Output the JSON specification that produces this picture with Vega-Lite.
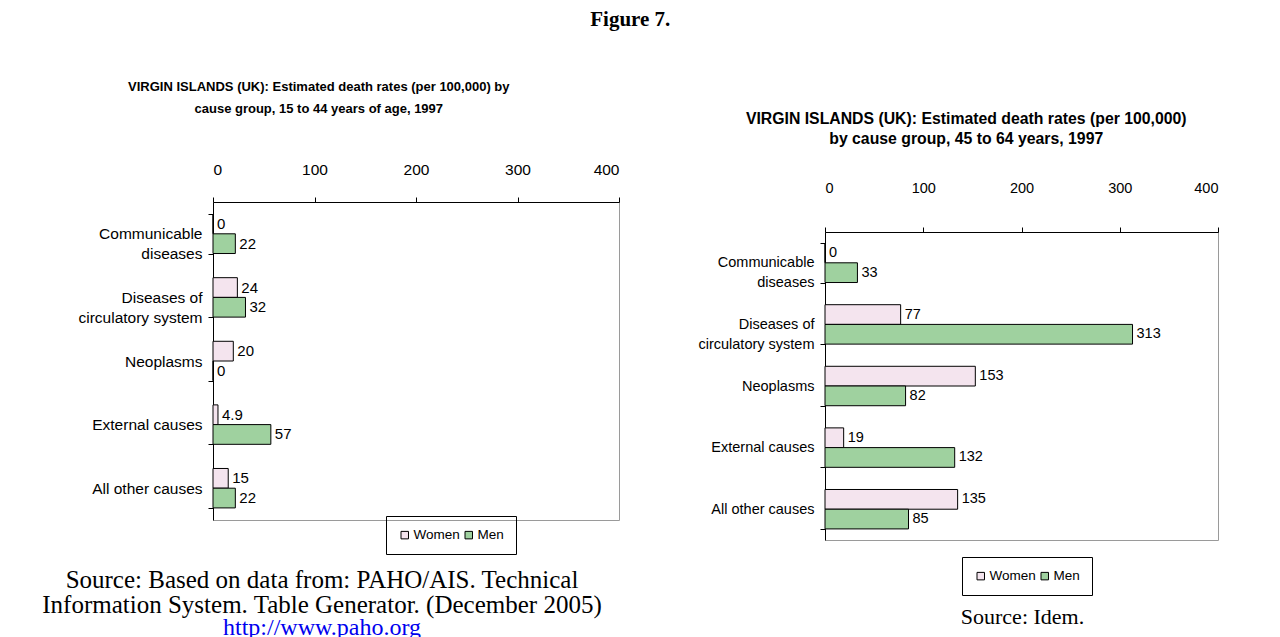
{
  "$schema": "https://vega.github.io/schema/vega-lite/v6.json",
  "background": "white",
  "padding": {"left": 41, "top": 8, "right": 10, "bottom": 2},
  "title": {"text": "Figure 7.", "font": "Liberation Serif", "fontSize": 21, "fontWeight": "bold", "color": "black", "anchor": "middle", "offset": 51},
  "datasets": {
    "young": [
      {"cause": "Communicable diseases", "sex": "Women", "rate": 0},
      {"cause": "Communicable diseases", "sex": "Men", "rate": 22},
      {"cause": "Diseases of circulatory system", "sex": "Women", "rate": 24},
      {"cause": "Diseases of circulatory system", "sex": "Men", "rate": 32},
      {"cause": "Neoplasms", "sex": "Women", "rate": 20},
      {"cause": "Neoplasms", "sex": "Men", "rate": 0},
      {"cause": "External causes", "sex": "Women", "rate": 4.9},
      {"cause": "External causes", "sex": "Men", "rate": 57},
      {"cause": "All other causes", "sex": "Women", "rate": 15},
      {"cause": "All other causes", "sex": "Men", "rate": 22}
    ],
    "older": [
      {"cause": "Communicable diseases", "sex": "Women", "rate": 0},
      {"cause": "Communicable diseases", "sex": "Men", "rate": 33},
      {"cause": "Diseases of circulatory system", "sex": "Women", "rate": 77},
      {"cause": "Diseases of circulatory system", "sex": "Men", "rate": 313},
      {"cause": "Neoplasms", "sex": "Women", "rate": 153},
      {"cause": "Neoplasms", "sex": "Men", "rate": 82},
      {"cause": "External causes", "sex": "Women", "rate": 19},
      {"cause": "External causes", "sex": "Men", "rate": 132},
      {"cause": "All other causes", "sex": "Women", "rate": 135},
      {"cause": "All other causes", "sex": "Men", "rate": 85}
    ],
    "blank": [{"t": ""}]
  },
  "config": {
    "font": "Liberation Sans",
    "view": {"stroke": "#9a9a9a", "strokeWidth": 1},
    "axis": {"labelFont": "Liberation Sans", "labelColor": "black", "domainColor": "black", "tickColor": "black", "grid": false, "title": null},
    "legend": {"labelFont": "Liberation Sans", "labelFontSize": 13.5, "labelColor": "black"}
  },
  "resolve": {"scale": {"color": "independent", "x": "independent", "y": "independent"}, "legend": {"color": "independent"}},
  "spacing": 77,
  "hconcat": [
    {
      "title": {"text": ["VIRGIN ISLANDS (UK): Estimated death rates (per 100,000) by", "cause group, 15 to 44 years of age, 1997"], "font": "Liberation Sans", "fontSize": 13, "fontWeight": "bold", "color": "black", "anchor": "middle", "frame": "bounds", "dx": -12, "lineHeight": 22, "offset": 29},
      "spacing": 5,
      "resolve": {"scale": {"color": "independent"}, "legend": {"color": "independent"}},
      "vconcat": [
        {
          "width": 10,
          "height": 1,
          "view": {"stroke": null},
          "data": {"name": "blank"},
          "mark": {"type": "text"},
          "encoding": {"text": {"field": "t"}}
        },
        {
          "width": 406,
          "height": 318,
          "title": {"text": ["Source: Based on data from: PAHO/AIS. Technical", "Information System. Table Generator. (December 2005)"], "orient": "bottom", "anchor": "middle", "frame": "group", "dx": -94, "offset": 13, "font": "Liberation Serif", "fontSize": 25, "fontWeight": "normal", "color": "black", "lineHeight": 25, "subtitle": "http://www.paho.org", "subtitleFont": "Liberation Serif", "subtitleFontSize": 24, "subtitleColor": "#0000ee", "subtitlePadding": -2},
          "data": {"name": "young"},
          "encoding": {
            "y": {"field": "cause", "type": "nominal", "sort": ["Communicable diseases", "Diseases of circulatory system", "Neoplasms", "External causes", "All other causes"], "scale": {"paddingInner": 0.38, "paddingOuter": 0.19}, "axis": {"tickBand": "extent", "tickSize": 5, "labelPadding": 6, "labelFontSize": 15.5, "labelLineHeight": 20, "labelExpr": "datum.value == 'Communicable diseases' ? ['Communicable', 'diseases'] : datum.value == 'Diseases of circulatory system' ? ['Diseases of', 'circulatory system'] : datum.value"}},
            "x": {"field": "rate", "type": "quantitative", "scale": {"domain": [0, 400], "nice": false}, "axis": {"orient": "top", "values": [0, 100, 200, 300, 400], "tickSize": 5, "labelPadding": 20, "labelFontSize": 15.5}},
            "yOffset": {"field": "sex", "sort": ["Women", "Men"]}
          },
          "layer": [
            {
              "mark": {"type": "bar", "stroke": "black", "strokeWidth": 1},
              "encoding": {
                "color": {"field": "sex", "type": "nominal", "sort": ["Women", "Men"], "scale": {"domain": ["Women", "Men"], "range": ["#f4e4ee", "#9fd19f"]},
                  "legend": {"title": null, "orient": "none", "legendX": 173, "legendY": 314, "direction": "horizontal", "strokeColor": "black", "padding": 12, "symbolType": "square", "symbolSize": 56, "symbolStrokeColor": "black", "symbolStrokeWidth": 1, "columnPadding": 2, "labelOffset": 2}}
              }
            },
            {
              "mark": {"type": "text", "align": "left", "dx": 4, "fontSize": 15, "color": "black"},
              "encoding": {"text": {"field": "rate", "type": "quantitative"}}
            }
          ]
        }
      ]
    },
    {
      "title": {"text": ["VIRGIN ISLANDS (UK): Estimated death rates (per 100,000)", "by cause group, 45 to 64 years, 1997"], "font": "Liberation Sans", "fontSize": 15.8, "fontWeight": "bold", "color": "black", "anchor": "middle", "frame": "bounds", "dx": 8, "lineHeight": 20, "offset": -3},
      "spacing": 23,
      "resolve": {"scale": {"color": "independent"}, "legend": {"color": "independent"}},
      "vconcat": [
        {
          "width": 10,
          "height": 1,
          "view": {"stroke": null},
          "data": {"name": "blank"},
          "mark": {"type": "text"},
          "encoding": {"text": {"field": "t"}}
        },
        {
          "width": 393,
          "height": 308,
          "title": {"text": "Source: Idem.", "orient": "bottom", "anchor": "middle", "frame": "group", "dx": 1, "offset": 11, "font": "Liberation Serif", "fontSize": 22, "fontWeight": "normal", "color": "black"},
          "data": {"name": "older"},
          "encoding": {
            "y": {"field": "cause", "type": "nominal", "sort": ["Communicable diseases", "Diseases of circulatory system", "Neoplasms", "External causes", "All other causes"], "scale": {"paddingInner": 0.36, "paddingOuter": 0.18}, "axis": {"tickBand": "extent", "tickSize": 5, "labelPadding": 6, "labelFontSize": 14.5, "labelLineHeight": 20, "labelExpr": "datum.value == 'Communicable diseases' ? ['Communicable', 'diseases'] : datum.value == 'Diseases of circulatory system' ? ['Diseases of', 'circulatory system'] : datum.value"}},
            "x": {"field": "rate", "type": "quantitative", "scale": {"domain": [0, 400], "nice": false}, "axis": {"orient": "top", "values": [0, 100, 200, 300, 400], "tickSize": 5, "labelPadding": 32, "labelFontSize": 14.5}},
            "yOffset": {"field": "sex", "sort": ["Women", "Men"]}
          },
          "layer": [
            {
              "mark": {"type": "bar", "stroke": "black", "strokeWidth": 1},
              "encoding": {
                "color": {"field": "sex", "type": "nominal", "sort": ["Women", "Men"], "scale": {"domain": ["Women", "Men"], "range": ["#f4e4ee", "#9fd19f"]},
                  "legend": {"title": null, "orient": "none", "legendX": 137, "legendY": 325, "direction": "horizontal", "strokeColor": "black", "padding": 12, "symbolType": "square", "symbolSize": 56, "symbolStrokeColor": "black", "symbolStrokeWidth": 1, "columnPadding": 2, "labelOffset": 2}}
              }
            },
            {
              "mark": {"type": "text", "align": "left", "dx": 4, "fontSize": 14.5, "color": "black"},
              "encoding": {"text": {"field": "rate", "type": "quantitative"}}
            }
          ]
        }
      ]
    }
  ]
}
